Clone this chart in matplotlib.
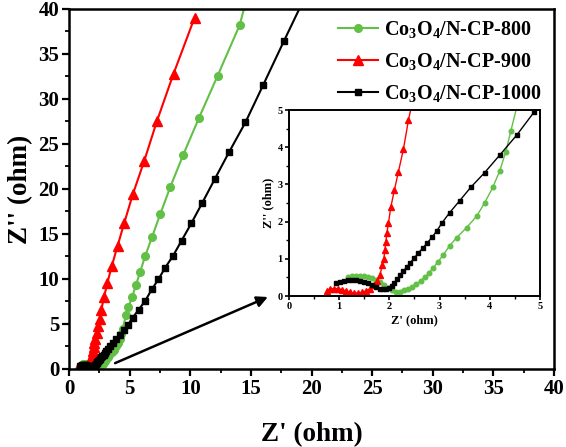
import numpy as np
import matplotlib.pyplot as plt

plt.rcParams['font.family'] = 'Liberation Serif'
plt.rcParams['font.weight'] = 'bold'
plt.rcParams['mathtext.fontset'] = 'custom'
plt.rcParams['mathtext.rm'] = 'Liberation Serif:bold'
plt.rcParams['mathtext.it'] = 'Liberation Serif:bold'
plt.rcParams['mathtext.bf'] = 'Liberation Serif:bold'

# Nyquist data, Z' and Z'' in ohm
x_800 = [1.18, 1.26, 1.34, 1.42, 1.50, 1.58, 1.66, 1.74, 1.82, 1.90, 1.98, 2.06, 2.14, 2.22,
         2.30, 2.38, 2.46, 2.54, 2.62, 2.70, 2.78, 2.87, 2.97, 3.07, 3.20, 3.34, 3.54, 3.74,
         3.90, 4.06, 4.20, 4.32, 4.42, 4.71, 4.90, 5.21, 5.51, 5.87, 6.28, 6.86, 7.52, 8.35,
         9.42, 10.72, 12.26, 14.07, 15.0]
y_800 = [0.50, 0.53, 0.54, 0.54, 0.53, 0.51, 0.48, 0.44, 0.38, 0.30, 0.22, 0.15, 0.12, 0.12,
         0.15, 0.19, 0.25, 0.32, 0.41, 0.50, 0.61, 0.75, 0.92, 1.10, 1.35, 1.57, 1.84, 2.15,
         2.51, 2.92, 3.37, 3.88, 4.44, 6.0, 6.9, 8.0, 9.28, 10.8, 12.55, 14.7, 17.2, 20.2,
         23.8, 27.9, 32.6, 38.2, 42.9]

x_900 = [0.75, 0.82, 0.90, 0.98, 1.06, 1.14, 1.22, 1.30, 1.38, 1.46, 1.54, 1.62, 1.70, 1.76,
         1.81, 1.86, 1.89, 1.91, 1.93, 1.95, 1.98, 2.03, 2.10, 2.18, 2.28, 2.38, 2.52, 2.67,
         2.89, 3.17, 3.53, 4.00, 4.55, 5.26, 6.20, 7.24, 8.62, 10.36]
y_900 = [0.13, 0.18, 0.20, 0.20, 0.17, 0.13, 0.10, 0.08, 0.08, 0.10, 0.14, 0.20, 0.29, 0.40,
         0.56, 0.83, 1.00, 1.24, 1.45, 1.70, 1.95, 2.40, 2.85, 3.34, 3.95, 4.73, 5.6, 6.6,
         8.0, 9.6, 11.45, 13.65, 16.2, 19.4, 23.1, 27.5, 32.8, 39.05]

x_1000 = [0.94, 1.02, 1.10, 1.18, 1.26, 1.34, 1.42, 1.50, 1.58, 1.66, 1.74, 1.82, 1.88, 1.94,
          2.00, 2.05, 2.10, 2.16, 2.22, 2.28, 2.35, 2.42, 2.50, 2.58, 2.66, 2.75, 2.85, 2.95,
          3.05, 3.20, 3.40, 3.62, 3.90, 4.20, 4.54, 4.88, 5.25, 5.75, 6.30, 6.83, 7.38, 7.93,
          8.57, 9.28, 10.08, 10.99, 12.04, 13.20, 14.55, 16.03, 17.71, 19.70]
y_1000 = [0.34, 0.38, 0.41, 0.43, 0.43, 0.42, 0.40, 0.37, 0.34, 0.30, 0.25, 0.20, 0.18, 0.19,
          0.22, 0.27, 0.35, 0.45, 0.56, 0.67, 0.78, 0.90, 1.03, 1.16, 1.28, 1.42, 1.58, 1.76,
          1.97, 2.24, 2.56, 2.92, 3.32, 3.79, 4.33, 4.94, 5.7, 6.6, 7.6, 8.86, 9.97, 11.26,
          12.55, 14.25, 16.17, 18.46, 21.15, 24.1, 27.4, 31.6, 36.4, 42.0]

labels = [r'Co$_3$O$_4$/N-CP-800', r'Co$_3$O$_4$/N-CP-900', r'Co$_3$O$_4$/N-CP-1000']
green = '#62c046'

series = [
    (x_800, y_800, green, 'o', 5.5, 3.3),
    (x_900, y_900, 'red', '^', 6.5, 3.8),
    (x_1000, y_1000, 'black', 's', 4.8, 2.8),
]

fig = plt.figure(figsize=(5.66, 4.47), dpi=100)
ax = fig.add_axes([0.1219, 0.1745, 0.857, 0.8054])

for (xs, ys, c, m, ms, _), lab in zip(series, labels):
    ax.plot(xs, ys, color=c, marker=m, ms=ms, lw=1.5, label=lab)

ax.set_xlim(0, 40)
ax.set_ylim(0, 40)
ax.set_xticks(np.arange(0, 41, 5))
ax.set_yticks(np.arange(0, 41, 5))
ax.set_xticks(np.arange(2.5, 40, 5), minor=True)
ax.set_yticks(np.arange(2.5, 40, 5), minor=True)
ax.tick_params(which='major', direction='out', length=5, width=1.6, labelsize=15, pad=2)
ax.tick_params(which='minor', direction='out', length=3, width=1.3)
for s in ax.spines.values():
    s.set_linewidth(1.8)
ax.set_xlabel("Z' (ohm)", fontsize=19.5, fontweight='bold', labelpad=17)
ax.set_ylabel("Z'' (ohm)", fontsize=19.5, fontweight='bold', labelpad=4)

leg = ax.legend(loc='upper right', frameon=False, fontsize=14.5, handlelength=2.0,
                handletextpad=0.3, labelspacing=0.55, borderaxespad=0.1,
                bbox_to_anchor=(0.995, 1.0))

ax.annotate('', xy=(16.4, 8.0), xytext=(3.8, 0.65),
            arrowprops=dict(arrowstyle='-|>', color='black', lw=1.8,
                            mutation_scale=16, shrinkA=0, shrinkB=0))

# inset with the high-frequency region
ins = fig.add_axes([0.5106, 0.3378, 0.4434, 0.4161])
for xs, ys, c, m, _, ms in series:
    ins.plot(xs, ys, color=c, marker=m, ms=ms, lw=1.0)
ins.set_xlim(0, 5)
ins.set_ylim(0, 5)
ins.set_xticks(np.arange(0, 6, 1))
ins.set_yticks(np.arange(0, 6, 1))
ins.set_xticks(np.arange(0.5, 5, 1), minor=True)
ins.set_yticks(np.arange(0.5, 5, 1), minor=True)
ins.tick_params(which='major', direction='out', length=3, width=1.2, labelsize=7.5, pad=1.5)
ins.tick_params(which='minor', direction='out', length=2, width=1.0)
for s in ins.spines.values():
    s.set_linewidth(1.4)
ins.set_xlabel("Z' (ohm)", fontsize=9, fontweight='bold', labelpad=2)
ins.set_ylabel("Z'' (ohm)", fontsize=9, fontweight='bold', labelpad=2)

fig.savefig('out.png', dpi=100)
